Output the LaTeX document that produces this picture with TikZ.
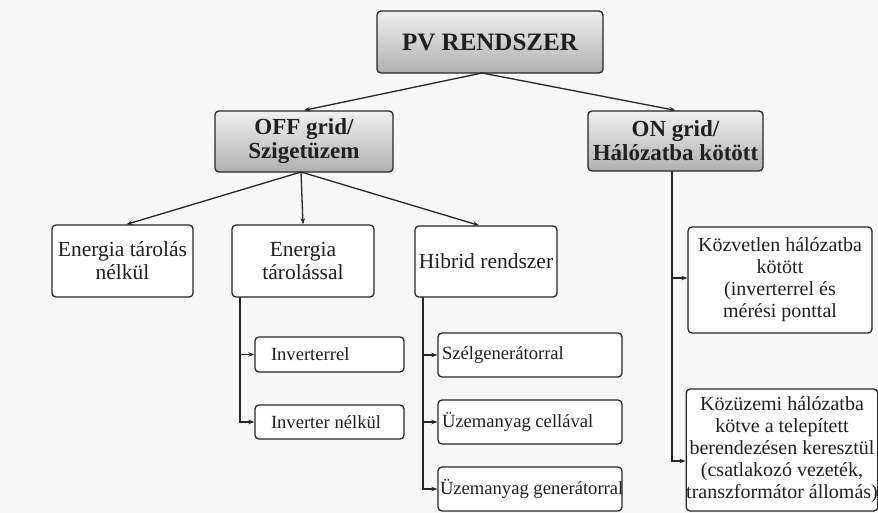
\documentclass[tikz,border=0pt]{standalone}
\usepackage{fontspec}
\setmainfont{Liberation Serif}
\usetikzlibrary{arrows.meta,calc}
\newcommand{\lbox}[3]{\makebox[#1][l]{\hspace*{#2}#3}}
\begin{document}
\begin{tikzpicture}[x=1pt,y=-1pt,
  base/.style={rectangle,rounded corners=4pt,draw=black!85,line width=1.3pt,
    align=center,inner sep=0pt,text=black!88},
  shadedbox/.style={base,top color=gray!12,bottom color=gray!62,font=\bfseries\fontsize{23}{24}\selectfont},
  lvlthree/.style={base,fill=white,font=\fontsize{21.5}{23}\selectfont},
  lvlfour/.style={base,fill=white,font=\fontsize{18.6}{20}\selectfont},
  rightbox/.style={base,fill=white,font=\fontsize{20}{22}\selectfont},
  conn/.style={draw=black!85,line width=1.3pt,-{Stealth[length=6pt,width=4.5pt]}},
  trunk/.style={draw=black!85,line width=1.3pt}]
\useasboundingbox (0,0) rectangle (878,513);
\fill[black!3] (0,0) rectangle (878,513);

\node[shadedbox,minimum width=226pt,minimum height=62pt,font=\bfseries\fontsize{25}{26}\selectfont] (pv) at (490,42) {PV RENDSZER};
\node[shadedbox,minimum width=178pt,minimum height=61pt] (off) at (304,141.5) {OFF grid/\\Szigetüzem};
\node[shadedbox,minimum width=175pt,minimum height=60pt] (on) at (675.5,141) {ON grid/\\Hálózatba kötött};

\node[lvlthree,minimum width=141pt,minimum height=72pt] (e1) at (122.5,261) {Energia tárolás\\nélkül};
\node[lvlthree,minimum width=142pt,minimum height=72pt] (e2) at (303,261) {Energia\\tárolással};
\node[lvlthree,minimum width=142pt,minimum height=71pt] (hib) at (486,261.5) {Hibrid rendszer};

\node[lvlfour,minimum height=35pt] (inv1) at (329.5,354.5) {\lbox{149pt}{16pt}{Inverterrel}};
\node[lvlfour,minimum height=34pt] (inv2) at (329.5,422) {\lbox{149pt}{16pt}{Inverter nélkül}};
\node[lvlfour,minimum height=44pt] (sz) at (530,355) {\lbox{184pt}{4pt}{Szélgenerátorral}};
\node[lvlfour,minimum height=44pt] (uc) at (530,422) {\lbox{184pt}{4pt}{Üzemanyag cellával}};
\node[lvlfour,minimum height=44pt] (ug) at (530,489) {\lbox{184pt}{2pt}{Üzemanyag generátorral}};

\node[rightbox,minimum width=184pt,minimum height=106pt] (k1) at (780,280) {Közvetlen hálózatba\\kötött\\(inverterrel és\\mérési ponttal};
\node[rightbox,minimum width=188pt,minimum height=122pt] (k2) at (782,450) {Közüzemi hálózatba\\kötve a telepített\\berendezésen keresztül\\(csatlakozó vezeték,\\transzformátor állomás)};

\coordinate (pvs) at (482,73);
\coordinate (offs) at (301,172);
\coordinate (e2b) at (240,297);
\coordinate (hibb) at (423,297);
\coordinate (onb) at (672,171);

\draw[conn] (pvs) -- (off.north);
\draw[conn] (pvs) -- (on.north);
\draw[conn] (offs) -- ($(e1.north)+(4,0)$);
\draw[conn] (offs) -- (e2.north);
\draw[conn] (offs) -- ($(hib.north)+(-7,0)$);

\draw[trunk] (e2b) -- ($(e2b |- inv2.west)$);
\draw[conn] (e2b) |- (inv1.west);
\draw[conn] (e2b) |- (inv2.west);

\draw[trunk] (hibb) -- ($(hibb |- ug.west)$);
\draw[conn] (hibb) |- (sz.west);
\draw[conn] (hibb) |- (uc.west);
\draw[conn] (hibb) |- (ug.west);

\draw[trunk] (onb) -- ($(onb |- k2.west)+(0,11)$);
\draw[conn] (onb) |- ($(k1.west)+(0,-2)$);
\draw[conn] (onb) |- ($(k2.west)+(0,11)$);
\end{tikzpicture}
\end{document}
